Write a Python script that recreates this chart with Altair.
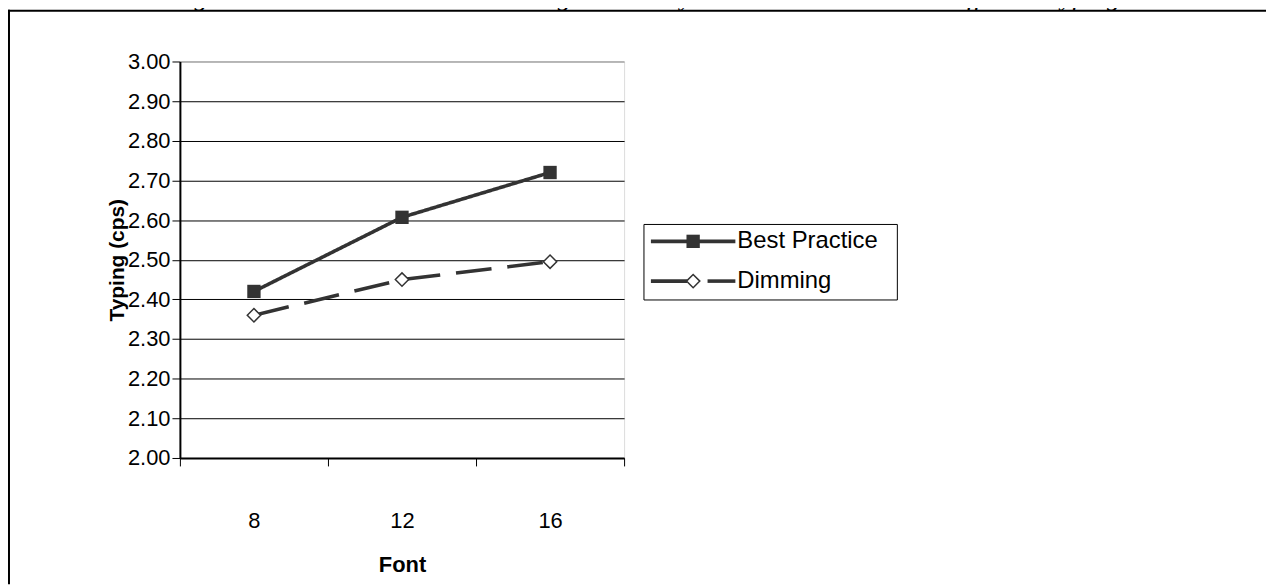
import altair as alt
import pandas as pd

# ---- data ----
fonts = ["8", "12", "16"]
series = ["Best Practice", "Dimming"]
best_practice = [2.42, 2.607, 2.72]
dimming = [2.36, 2.45, 2.495]
y_ticks = [2.0, 2.1, 2.2, 2.3, 2.4, 2.5, 2.6, 2.7, 2.8, 2.9, 3.0]
figure_title = "Figure 26: Best Practice vs Dimming Control by Print Size 2 interaction effect on typing."

rows = []
for f, v in zip(fonts, best_practice):
    rows.append({"font": f, "series": series[0], "typing": v})
for f, v in zip(fonts, dimming):
    rows.append({"font": f, "series": series[1], "typing": v})
df = pd.DataFrame(rows)

INK = "#333333"
FONT = "Liberation Sans"

# plot area geometry (svg coordinates; page has an 8px margin)
W, H = 447, 399
PAD_L, PAD_T = 173, 52
SVG_W, SVG_H = 1266, 578
PAD_R = SVG_W - PAD_L - W
PAD_B = SVG_H - PAD_T - H

x_enc = alt.X(
    "font:O",
    sort=fonts,
    scale=alt.Scale(type="band", domain=fonts, paddingInner=0, paddingOuter=0),
    axis=alt.Axis(
        title="Font",
        labelAngle=0,
        tickBand="extent",
        grid=False,
        tickSize=8,
        tickColor="black",
        tickWidth=1,
        domainColor="black",
        domainWidth=2,
        labelFontSize=22,
        labelColor="black",
        labelPadding=45,
        titleFontSize=22,
        titleFontWeight="bold",
        titleColor="black",
        titlePadding=23,
    ),
)

y_enc = alt.Y(
    "typing:Q",
    scale=alt.Scale(domain=[2.0, 3.0], zero=False, nice=False),
    axis=alt.Axis(
        title="Typing (cps)",
        values=y_ticks,
        format=".2f",
        grid=True,
        gridColor={"condition": {"test": "datum.value >= 2.99", "value": "#808080"}, "value": "black"},
        gridWidth=1,
        tickSize=8,
        tickColor="black",
        tickWidth=1,
        domainColor="black",
        domainWidth=2,
        labelFontSize=22,
        labelColor="black",
        labelPadding=2,
        titleFontSize=21,
        titleFontWeight="bold",
        titleColor="black",
        titlePadding=0,
    ),
)

lines = alt.Chart(df).mark_line(strokeWidth=3.6, color=INK).encode(
    x=x_enc,
    y=y_enc,
    detail="series:N",
    strokeDash=alt.StrokeDash(
        "series:N",
        scale=alt.Scale(domain=series, range=[[1, 0], [36, 16]]),
        legend=None,
    ),
)

squares = alt.Chart(df).transform_filter(
    alt.datum.series == series[0]
).mark_point(shape="square", filled=True, size=180, color=INK, opacity=1).encode(x=x_enc, y=y_enc)

diamonds = alt.Chart(df).transform_filter(
    alt.datum.series == series[1]
).mark_point(shape="diamond", filled=False, size=180, stroke=INK, fill="white",
             strokeWidth=1.5, opacity=1).encode(x=x_enc, y=y_enc)

# ---- legend (boxed, to the right of the plot) ----
one = alt.Data(values=[{"k": 1}])
LG_X0, LG_X1, LG_Y0, LG_Y1 = 467, 722, 164, 240
ROW_Y = [181, 221]
SYM_X0, SYM_X1, SYM_C = 474, 559, 516.5
TXT_X = 561

legend_box = alt.Chart(one).mark_rect(fill="white", stroke="black", strokeWidth=1).encode(
    x=alt.value(LG_X0), x2=alt.value(LG_X1), y=alt.value(LG_Y0), y2=alt.value(LG_Y1)
)
lg_bp_line = alt.Chart(one).mark_rule(color=INK, strokeWidth=3.6).encode(
    x=alt.value(SYM_X0), x2=alt.value(SYM_X1), y=alt.value(ROW_Y[0])
)
lg_bp_mark = alt.Chart(one).mark_point(shape="square", filled=True, size=180, color=INK, opacity=1).encode(
    x=alt.value(SYM_C), y=alt.value(ROW_Y[0])
)
lg_dim_line1 = alt.Chart(one).mark_rule(color=INK, strokeWidth=3.6).encode(
    x=alt.value(SYM_X0), x2=alt.value(SYM_C - 6), y=alt.value(ROW_Y[1])
)
lg_dim_line2 = alt.Chart(one).mark_rule(color=INK, strokeWidth=3.6).encode(
    x=alt.value(SYM_C + 14.5), x2=alt.value(SYM_X1), y=alt.value(ROW_Y[1])
)
lg_dim_mark = alt.Chart(one).mark_point(shape="diamond", filled=False, size=180, stroke=INK,
                                        fill="white", strokeWidth=1.5, opacity=1).encode(
    x=alt.value(SYM_C), y=alt.value(ROW_Y[1])
)
lg_text_bp = alt.Chart(one).mark_text(align="left", baseline="middle", fontSize=24, color="black",
                                      font=FONT).encode(
    x=alt.value(TXT_X), y=alt.value(ROW_Y[0]), text=alt.value(series[0])
)
lg_text_dim = alt.Chart(one).mark_text(align="left", baseline="middle", fontSize=24, color="black",
                                       font=FONT).encode(
    x=alt.value(TXT_X), y=alt.value(ROW_Y[1]), text=alt.value(series[1])
)

# ---- page frame and (cut-off) figure caption ----
frame_left = alt.Chart(one).mark_rule(color="black", strokeWidth=2).encode(
    x=alt.value(-172), y=alt.value(-52), y2=alt.value(SVG_H - PAD_T)
)
frame_top = alt.Chart(one).mark_rule(color="black", strokeWidth=2).encode(
    y=alt.value(-51), x=alt.value(-173), x2=alt.value(SVG_W - PAD_L)
)
title_mark = alt.Chart(one).mark_text(
    font="Liberation Serif", fontStyle="italic", fontSize=27, color="black",
    align="center", baseline="alphabetic"
).encode(x=alt.value(472), y=alt.value(-57), text=alt.value(figure_title))

chart = alt.layer(
    lines, squares, diamonds,
    legend_box, lg_bp_line, lg_bp_mark, lg_dim_line1, lg_dim_line2, lg_dim_mark,
    lg_text_bp, lg_text_dim,
    frame_left, frame_top, title_mark
).properties(
    width=W,
    height=H,
    padding={"left": PAD_L, "top": PAD_T, "right": PAD_R, "bottom": PAD_B},
    autosize=alt.AutoSizeParams(type="none"),
    background="white",
).configure_view(
    stroke="#808080", strokeWidth=2
).configure(
    font=FONT
)

chart.save("out.html", embed_options={"renderer": "svg", "actions": False})
